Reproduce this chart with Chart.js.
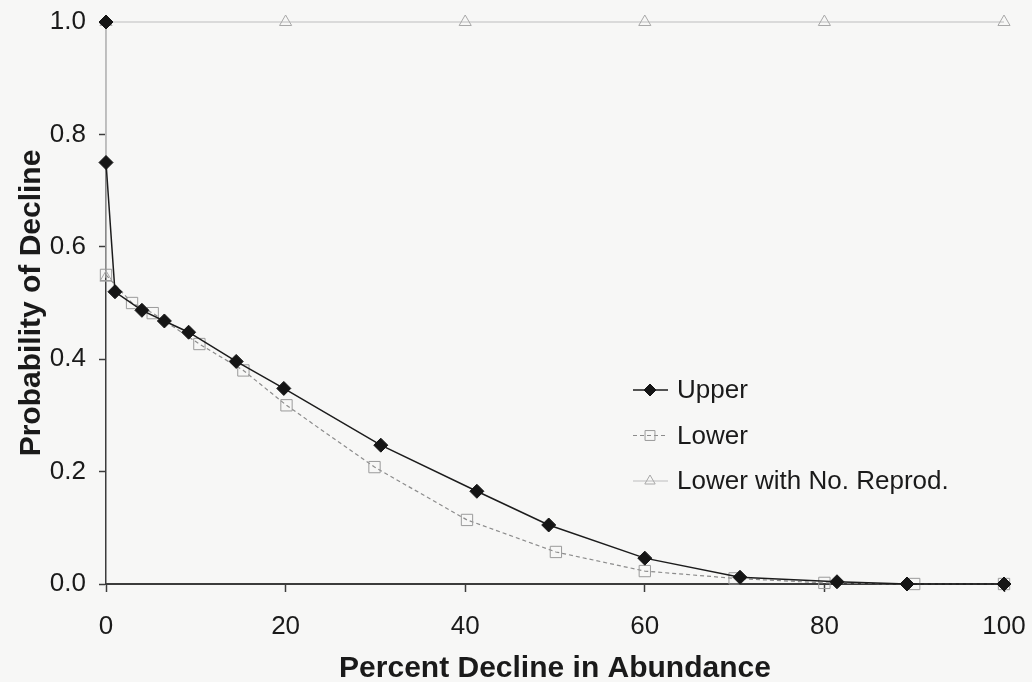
<!DOCTYPE html>
<html>
<head>
<meta charset="utf-8">
<title>Probability of Decline</title>
<script src="https://cdn.jsdelivr.net/npm/chart.js@4.4.1/dist/chart.umd.min.js"></script>
<style>
    html, body { margin: 0; padding: 0; background: #f7f7f6; }
    #wrap { width: 1032px; height: 682px; }
</style>
</head>
<body>
<div id="wrap"><canvas id="chartDecline" width="1032" height="682"></canvas></div>
<script>
// values
var upperX = [0, 0, 1.0, 4.0, 6.5, 9.2, 14.5, 19.8, 30.6, 41.3, 49.3, 60.0, 70.6, 81.4, 89.2, 100];
var upperY = [1.0, 0.75, 0.52, 0.487, 0.468, 0.448, 0.396, 0.348, 0.247, 0.165, 0.105, 0.046, 0.012, 0.004, 0, 0];

var lowerX = [0, 2.9, 5.2, 10.4, 15.3, 20.1, 29.9, 40.2, 50.1, 60.0, 70.0, 80.0, 90.0, 100];
var lowerY = [0.55, 0.50, 0.482, 0.427, 0.38, 0.318, 0.208, 0.114, 0.057, 0.023, 0.01, 0.002, 0, 0];

var noReprodX = [0, 0, 20, 40, 60, 80, 100];
var noReprodY = [0.545, 1.0, 1.0, 1.0, 1.0, 1.0, 1.0];

var xTicks = [0, 20, 40, 60, 80, 100];
var yTicks = [0.0, 0.2, 0.4, 0.6, 0.8, 1.0];

var seriesNames = ['Upper', 'Lower', 'Lower with No. Reprod.'];

var fontFamily = '"Liberation Sans", Arial, Helvetica, sans-serif';
var textColor = '#1a1a1a';
var axisColor = '#3c3c3c';

function toPoints(xs, ys) {
    let pts = [];
    for (let i = 0; i < xs.length; i++) {
        pts.push({ x: xs[i], y: ys[i] });
    }
    return pts;
}

function drawMarker(ctx, style, x, y, r, fill, stroke) {
    ctx.save();
    ctx.beginPath();
    if (style == 'rectRot') {
        ctx.moveTo(x, y - r);
        ctx.lineTo(x + r, y);
        ctx.lineTo(x, y + r);
        ctx.lineTo(x - r, y);
    } else if (style == 'rect') {
        let s = r * Math.SQRT1_2;
        ctx.rect(x - s, y - s, 2 * s, 2 * s);
    } else {
        let h = r * 1.5;
        ctx.moveTo(x, y - r);
        ctx.lineTo(x + h / Math.sqrt(3), y + r / 2);
        ctx.lineTo(x - h / Math.sqrt(3), y + r / 2);
    }
    ctx.closePath();
    ctx.fillStyle = fill;
    ctx.fill();
    ctx.lineWidth = 1;
    ctx.strokeStyle = stroke;
    ctx.stroke();
    ctx.restore();
}

// legend sits inside the plot, drawn with line + marker samples
const insideLegend = {
    id: 'insideLegend',
    afterDraw: function (chart) {
        const ctx = chart.ctx;
        const area = chart.chartArea;
        const x0 = area.left + 527;
        const y0 = area.top + 368;
        const rowGap = 45.5;

        ctx.save();
        ctx.font = '26px ' + fontFamily;
        ctx.textBaseline = 'middle';
        ctx.textAlign = 'left';

        chart.data.datasets.forEach(function (ds, i) {
            let y = y0 + i * rowGap;
            ctx.beginPath();
            ctx.setLineDash(ds.borderDash || []);
            ctx.lineWidth = ds.borderWidth;
            ctx.strokeStyle = ds.borderColor;
            ctx.moveTo(x0, y);
            ctx.lineTo(x0 + 35, y);
            ctx.stroke();
            ctx.setLineDash([]);
            drawMarker(ctx, ds.pointStyle, x0 + 17, y, ds.pointRadius - 1, ds.pointBackgroundColor, ds.pointBorderColor);
            ctx.fillStyle = textColor;
            ctx.fillText(ds.label, x0 + 44, y + 1);
        });
        ctx.restore();
    }
};

const ctxDecline = document.getElementById('chartDecline').getContext('2d');

let declineChart = new Chart(ctxDecline, {
    type: 'scatter',
    data: {
        datasets: [
            {
                label: seriesNames[0],
                data: toPoints(upperX, upperY),
                showLine: true,
                borderColor: '#1c1c1c',
                borderWidth: 1.5,
                // the drop at 0 % is printed faint in the original
                segment: {
                    borderColor: function (c) { return c.p0DataIndex === 0 ? '#c4c4c4' : undefined; },
                    borderWidth: function (c) { return c.p0DataIndex === 0 ? 1 : undefined; }
                },
                pointStyle: 'rectRot',
                pointRadius: 7,
                pointBackgroundColor: '#151515',
                pointBorderColor: '#151515',
                pointBorderWidth: 1
            },
            {
                label: seriesNames[1],
                data: toPoints(lowerX, lowerY),
                showLine: true,
                borderColor: '#8c8c8c',
                borderWidth: 1.2,
                borderDash: [4, 3],
                pointStyle: 'rect',
                pointRadius: 8,
                pointBackgroundColor: 'rgba(0,0,0,0)',
                pointBorderColor: '#9a9a9a',
                pointBorderWidth: 1
            },
            {
                label: seriesNames[2],
                data: toPoints(noReprodX, noReprodY),
                showLine: true,
                borderColor: '#bdbdbd',
                borderWidth: 1.2,
                pointStyle: 'triangle',
                pointRadius: 7,
                pointBackgroundColor: 'rgba(0,0,0,0)',
                pointBorderColor: '#a8a8a8',
                pointBorderWidth: 1
            }
        ]
    },
    plugins: [insideLegend],
    options: {
        responsive: false,
        animation: false,
        clip: false,
        layout: {
            padding: { left: 0, right: 28, top: 22, bottom: 0 }
        },
        plugins: {
            legend: { display: false },
            tooltip: { enabled: false }
        },
        scales: {
            x: {
                type: 'linear',
                min: 0,
                max: 100,
                afterFit: function (scale) {
                    scale.height = 98;
                    scale.paddingLeft = 0;
                    scale.paddingRight = 0;
                },
                afterBuildTicks: function (scale) {
                    scale.ticks = xTicks.map(function (v) { return { value: v }; });
                },
                ticks: {
                    padding: 19,
                    color: textColor,
                    font: { family: fontFamily, size: 26 }
                },
                grid: {
                    drawOnChartArea: false,
                    drawTicks: true,
                    tickLength: 8,
                    tickWidth: 1.5,
                    tickColor: axisColor
                },
                border: { display: true, color: axisColor, width: 2 },
                title: {
                    display: true,
                    text: 'Percent Decline in Abundance',
                    color: textColor,
                    font: { family: fontFamily, size: 30, weight: 'bold', lineHeight: 0.9 },
                    padding: { top: 0, bottom: 0 }
                }
            },
            y: {
                type: 'linear',
                min: 0,
                max: 1,
                afterFit: function (scale) {
                    scale.width = 106;
                    scale.paddingTop = 0;
                    scale.paddingBottom = 0;
                },
                afterBuildTicks: function (scale) {
                    scale.ticks = yTicks.map(function (v) { return { value: v }; });
                },
                ticks: {
                    padding: 13,
                    color: textColor,
                    font: { family: fontFamily, size: 26 },
                    callback: function (v) { return Number(v).toFixed(1); }
                },
                grid: {
                    drawOnChartArea: false,
                    drawTicks: true,
                    tickLength: 7,
                    tickWidth: 1.5,
                    tickColor: axisColor
                },
                border: { display: true, color: axisColor, width: 1.5 },
                title: {
                    display: true,
                    text: 'Probability of Decline',
                    color: textColor,
                    font: { family: fontFamily, size: 30, weight: 'bold', lineHeight: 1.0 },
                    padding: { top: 17, bottom: 0 }
                }
            }
        }
    }
});
</script>
</body>
</html>
